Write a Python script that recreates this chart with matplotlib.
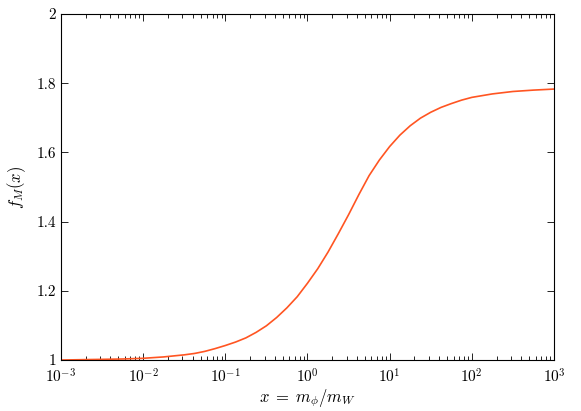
import numpy as np
import matplotlib
matplotlib.use('Agg')
import matplotlib.pyplot as plt
from matplotlib.ticker import LogLocator, FixedLocator, FuncFormatter, NullFormatter

plt.rcParams['font.family'] = 'serif'
plt.rcParams['font.serif'] = ['cmr10']
plt.rcParams['mathtext.fontset'] = 'cm'
plt.rcParams['axes.formatter.use_mathtext'] = True
plt.rcParams['axes.unicode_minus'] = False

# 曲线数据 (log10 x, f_M)
log_x = [-3.0, -2.5, -2.25, -2.0, -1.75, -1.5, -1.375, -1.25, -1.125,
         -1.0, -0.875, -0.75, -0.625, -0.5, -0.375, -0.25, -0.125,
         0.0, 0.125, 0.25, 0.375, 0.5, 0.625, 0.75, 0.875,
         1.0, 1.125, 1.25, 1.375, 1.5, 1.625, 1.75, 1.875,
         2.0, 2.25, 2.5, 2.75, 3.0]
f_m = [1.000, 1.002, 1.003, 1.005, 1.009, 1.015, 1.019, 1.025, 1.033,
       1.042, 1.052, 1.064, 1.080, 1.099, 1.123, 1.151, 1.183,
       1.222, 1.264, 1.312, 1.365, 1.420, 1.478, 1.533, 1.578,
       1.617, 1.650, 1.677, 1.699, 1.716, 1.730, 1.741, 1.751,
       1.759, 1.769, 1.776, 1.780, 1.783]
y_ticks = [1.0, 1.2, 1.4, 1.6, 1.8, 2.0]

x = 10.0 ** np.array(log_x)

fig = plt.figure(figsize=(5.81, 4.11), dpi=100)
ax = fig.add_axes([0.105, 0.124, 0.8485, 0.842])
ax.plot(x, f_m, color='#ff5522', lw=1.2)

ax.set_xscale('log')
ax.set_xlim(1e-3, 1e3)
ax.set_ylim(1, 2)
ax.xaxis.set_major_locator(LogLocator(base=10, numticks=10))
ax.xaxis.set_minor_locator(LogLocator(base=10, subs=np.arange(2, 10), numticks=20))
ax.xaxis.set_minor_formatter(NullFormatter())
ax.yaxis.set_major_locator(FixedLocator(y_ticks))
ax.yaxis.set_major_formatter(FuncFormatter(lambda v, p: '%g' % v))

ax.tick_params(which='both', direction='in', top=True, right=True, labelsize=11)
ax.tick_params(which='major', length=5, width=0.6)
ax.tick_params(which='minor', length=3, width=0.6)
ax.tick_params(axis='x', pad=5)
for s in ax.spines.values():
    s.set_linewidth(0.8)

ax.set_xlabel(r'$x\;=\;m_\phi/m_W$', fontsize=12, labelpad=1)
ax.set_ylabel(r'$f_M(x)$', fontsize=12, labelpad=6)

fig.savefig('out.png', dpi=100)
